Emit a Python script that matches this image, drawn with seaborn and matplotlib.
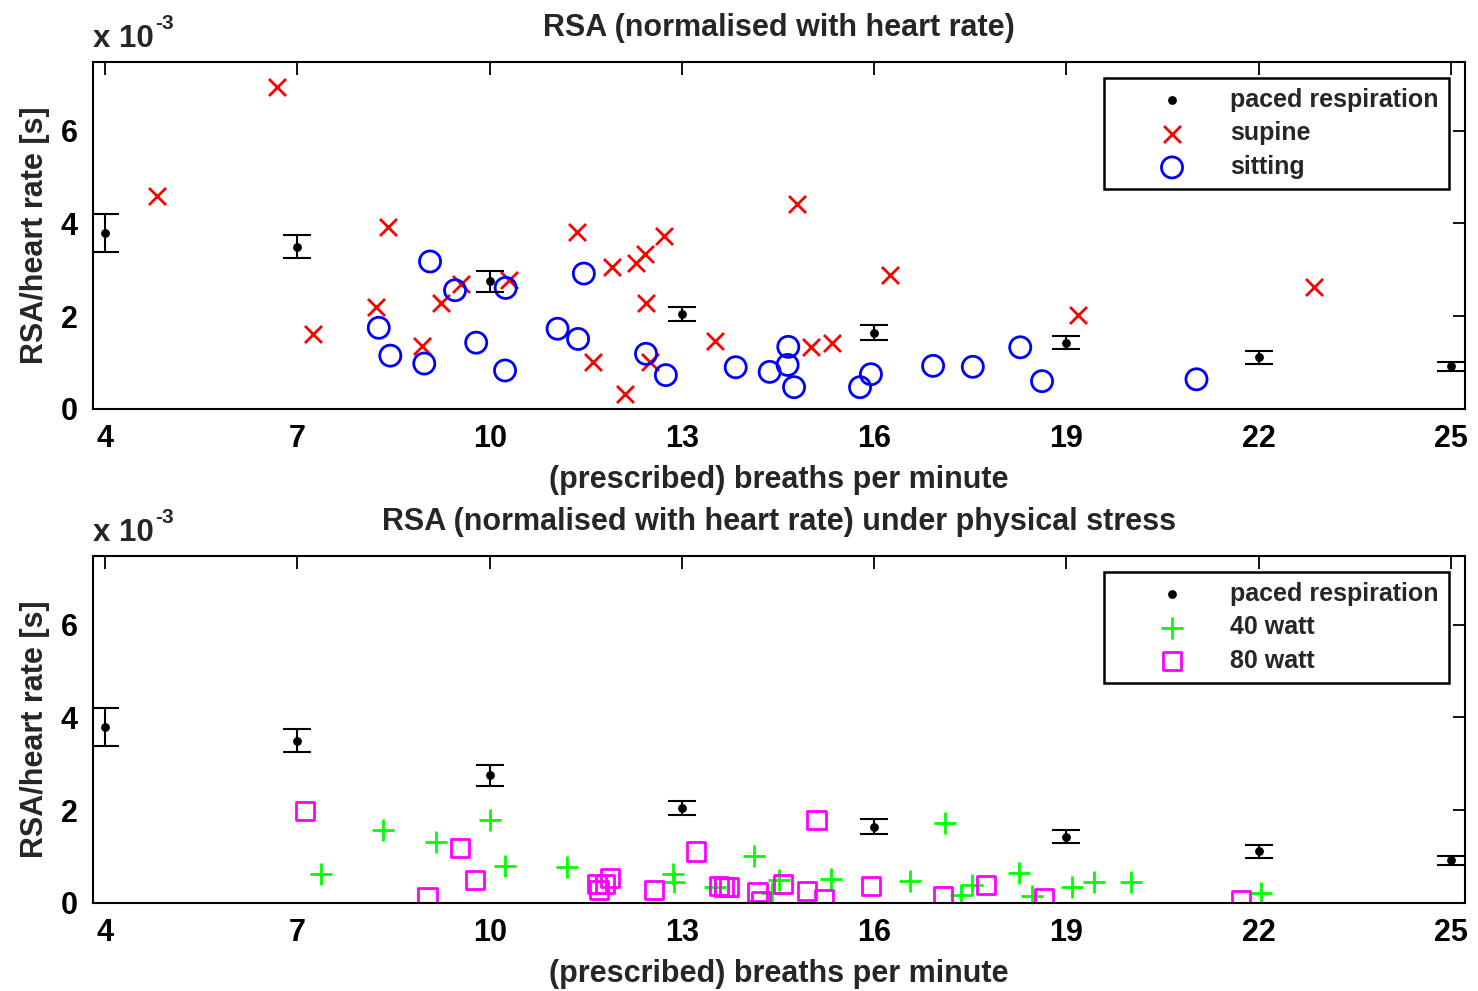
import numpy as np
import pandas as pd
import matplotlib
matplotlib.use("Agg")
import matplotlib.pyplot as plt
import seaborn as sns

# ---------------- data (RSA/heart rate in units of 1e-3 s) ----------------
paced_x = [4, 7, 10, 13, 16, 19, 22, 25]
paced_mean = [3.80, 3.50, 2.75, 2.05, 1.64, 1.43, 1.13, 0.93]
paced_low = [3.39, 3.25, 2.52, 1.90, 1.49, 1.29, 0.98, 0.82]
paced_high = [4.20, 3.75, 2.97, 2.20, 1.80, 1.57, 1.26, 1.02]

supine_x = [6.68, 4.81, 8.41, 7.24, 8.22, 8.95, 9.24, 9.55, 10.30,
            11.37, 11.91, 12.29, 12.43, 12.72, 12.44, 11.62, 12.12, 12.50,
            13.52, 14.80, 15.01, 15.35, 16.25, 19.18, 22.87]
supine_y = [6.95, 4.59, 3.92, 1.61, 2.20, 1.36, 2.28, 2.69, 2.78,
            3.82, 3.07, 3.15, 3.34, 3.74, 2.28, 1.01, 0.32, 1.01,
            1.47, 4.43, 1.33, 1.43, 2.88, 2.02, 2.64]

sitting_x = [8.27, 8.45, 8.98, 9.07, 9.46, 9.79, 10.24, 10.25, 11.06,
             11.47, 11.38, 12.44, 12.75, 13.84, 14.37, 14.66, 14.65, 14.75,
             15.78, 15.95, 16.92, 17.54, 18.28, 18.62, 21.03]
sitting_y = [1.75, 1.15, 0.98, 3.18, 2.56, 1.43, 0.83, 2.61, 1.73,
             2.92, 1.51, 1.19, 0.73, 0.90, 0.80, 1.34, 0.95, 0.47,
             0.47, 0.75, 0.93, 0.91, 1.33, 0.60, 0.64]

w40_x = [7.37, 8.34, 9.17, 10.00, 10.24, 11.20, 12.86, 12.88, 13.52, 14.13,
         14.41, 14.52, 15.32, 16.56, 17.11, 17.35, 17.52, 18.26, 18.47,
         19.09, 19.43, 20.01, 22.03]
w40_y = [0.62, 1.58, 1.31, 1.79, 0.80, 0.77, 0.62, 0.45, 0.35, 1.01,
         0.21, 0.50, 0.52, 0.47, 1.73, 0.17, 0.39, 0.64, 0.15,
         0.35, 0.46, 0.46, 0.22]

w80_x = [7.12, 9.03, 9.54, 9.77, 11.68, 11.70, 11.80, 11.88, 12.56, 13.22,
         13.58, 13.66, 13.73, 14.18, 14.24, 14.58, 14.95, 15.10, 15.22,
         15.95, 17.08, 17.75, 18.65, 21.73]
w80_y = [1.98, 0.12, 1.19, 0.50, 0.41, 0.28, 0.41, 0.53, 0.28, 1.11,
         0.37, 0.35, 0.35, 0.24, 0.05, 0.40, 0.26, 1.78, 0.09,
         0.37, 0.14, 0.39, 0.10, 0.06]

x_ticks = [4, 7, 10, 13, 16, 19, 22, 25]
y_ticks = [0, 2, 4, 6]

titles = ["RSA (normalised with heart rate)",
          "RSA (normalised with heart rate) under physical stress"]
xlabel = "(prescribed) breaths per minute"
ylabel = "RSA/heart rate [s]"

# ---------------- style ----------------
sns.set_style("white")
FONT = ["Liberation Sans", "DejaVu Sans"]
plt.rcParams["font.family"] = FONT
plt.rcParams["font.weight"] = "bold"

fig = plt.figure(figsize=(14.78, 9.91), dpi=100)
ax1 = fig.add_axes([0.0629, 0.5873, 0.9283, 0.3501])
ax2 = fig.add_axes([0.0629, 0.0888, 0.9283, 0.3502])

paced_df = pd.DataFrame({"x": paced_x, "y": paced_mean,
                         "lo": paced_low, "hi": paced_high})


def draw_paced(ax):
    yerr = [paced_df["y"] - paced_df["lo"], paced_df["hi"] - paced_df["y"]]
    ax.errorbar(paced_df["x"], paced_df["y"], yerr=yerr, fmt="none",
                ecolor="black", elinewidth=1.5, capsize=10, capthick=1.5,
                zorder=3)
    sns.scatterplot(data=paced_df, x="x", y="y", ax=ax, marker="o", s=40,
                    color="black", edgecolor="black", linewidth=0,
                    label="paced respiration", zorder=4)


def style_axes(ax, title):
    ax.set_xlim(3.81, 25.22)
    ax.set_ylim(0, 7.48)
    ax.set_xticks(x_ticks)
    ax.set_yticks(y_ticks)
    ax.tick_params(direction="in", length=9, width=1.3, top=True, right=True,
                   labelsize=22, pad=11, colors="black")
    for lab in ax.get_xticklabels() + ax.get_yticklabels():
        lab.set_fontweight("bold")
    for sp in ax.spines.values():
        sp.set_linewidth(1.5)
        sp.set_color("black")
        sp.set_visible(True)
    ax.set_xlabel(xlabel, fontsize=22, labelpad=8, fontweight="bold")
    ax.set_ylabel(ylabel, fontsize=22, labelpad=8, fontweight="bold")
    ax.set_title(title, fontsize=22, pad=19, fontweight="bold")
    t = ax.text(0.0, 1.044, "x 10", transform=ax.transAxes,
                fontsize=22.5, ha="left", va="baseline", fontweight="bold")
    ax.annotate("-3", xy=(1.0, 1.0), xycoords=t, xytext=(1, 7),
                textcoords="offset points", fontsize=15, ha="left",
                va="top", fontweight="bold")
    leg = ax.legend(loc="upper right", bbox_to_anchor=(0.988, 0.954),
                    prop={"size": 18, "weight": "bold"}, frameon=True,
                    fancybox=False, edgecolor="black", framealpha=1,
                    handlelength=4.64, handletextpad=0.0, labelspacing=0.38,
                    borderpad=0.4, borderaxespad=0, scatterpoints=1)
    leg.get_frame().set_linewidth(1.8)


# top panel
draw_paced(ax1)
sns.scatterplot(x=supine_x, y=supine_y, ax=ax1, marker="x", s=150,
                color="red", linewidth=2, label="supine", zorder=2)
sns.scatterplot(x=sitting_x, y=sitting_y, ax=ax1, marker="o", s=230,
                color="blue", facecolors="none", edgecolor="blue",
                linewidth=2, label="sitting", zorder=2)
style_axes(ax1, titles[0])

# bottom panel
draw_paced(ax2)
sns.scatterplot(x=w40_x, y=w40_y, ax=ax2, marker="+", s=230,
                color="#00ff00", linewidth=2, label="40 watt", zorder=2)
sns.scatterplot(x=w80_x, y=w80_y, ax=ax2, marker="s", s=170,
                color="magenta", facecolors="none", edgecolor="magenta",
                linewidth=2, label="80 watt", zorder=2)
style_axes(ax2, titles[1])

fig.savefig("out.png", dpi=100)
